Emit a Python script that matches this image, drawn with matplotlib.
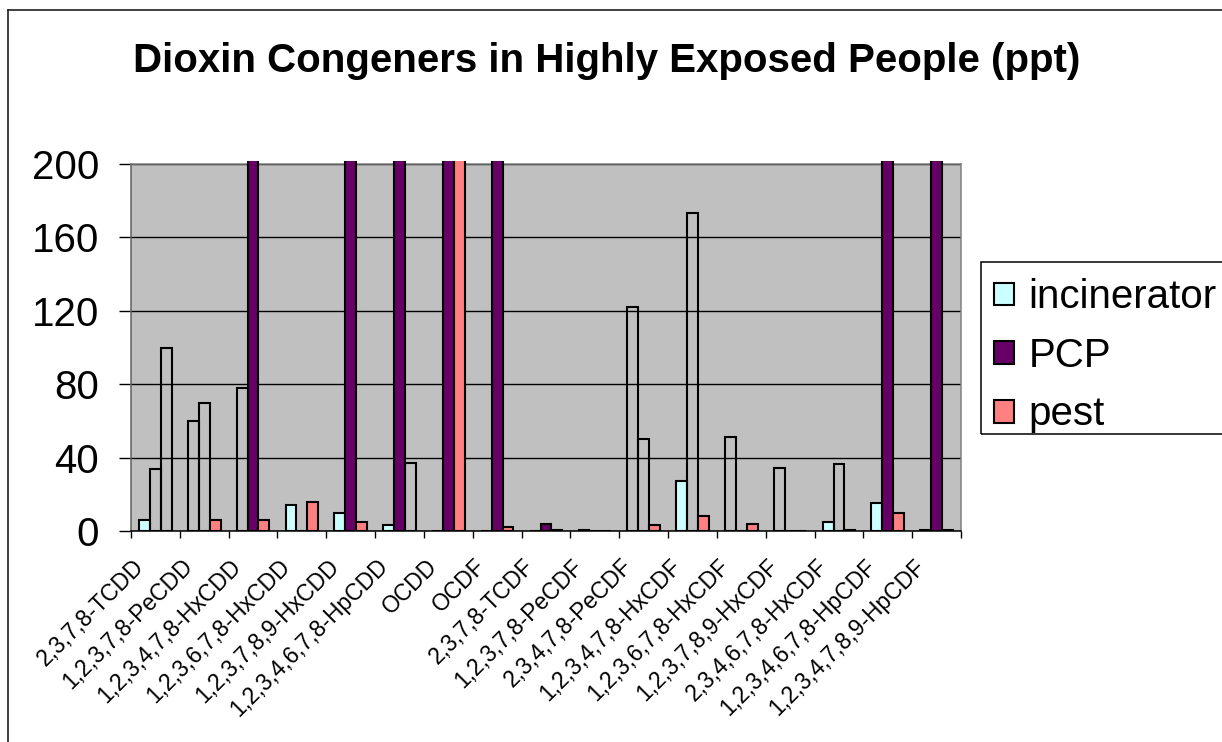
import numpy as np
import matplotlib
matplotlib.use("Agg")
import matplotlib.pyplot as plt
from matplotlib.patches import Patch, Rectangle
from matplotlib.lines import Line2D
from matplotlib.transforms import ScaledTranslation

plt.rcParams['font.family'] = ['Liberation Sans', 'DejaVu Sans']

congeners = [
    "2,3,7,8-TCDD", "1,2,3,7,8-PeCDD", "1,2,3,4,7,8-HxCDD", "1,2,3,6,7,8-HxCDD",
    "1,2,3,7,8,9-HxCDD", "1,2,3,4,6,7,8-HpCDD", "OCDD", "OCDF",
    "2,3,7,8-TCDF", "1,2,3,7,8-PeCDF", "2,3,4,7,8-PeCDF", "1,2,3,4,7,8-HxCDF",
    "1,2,3,6,7,8-HxCDF", "1,2,3,7,8,9-HxCDF", "2,3,4,6,7,8-HxCDF",
    "1,2,3,4,6,7,8-HpCDF", "1,2,3,4,7,8,9-HpCDF",
]

# ppt per congener; values above 200 run off the top of the axis
incinerator = [6, 60, 78, 14, 10, 3, 0, 0, 0, 0.8, 122, 27, 51, 34.5, 5, 15, 0.8]
pcp = [34, 70, 230, 0, 260, 1800, 9500, 240, 4, 0, 50, 173.5, 0, 0, 36.5, 350, 210]
pest = [100, 6, 6, 16, 5, 37, 1200, 2, 0.8, 0, 3, 8, 4, 0, 0.8, 10, 0.8]

# points drawn as outline only (no fill)
incinerator_open = [False, True, True, False, False, False, False, False, False,
                    False, True, False, True, True, False, False, False]
pcp_open = [True, True, False, False, False, False, False, False, False,
            False, True, True, False, False, True, False, False]
pest_open = [True, False, False, False, False, True, False, False, False,
             False, False, False, False, False, False, False, False]

series = [
    ("incinerator", incinerator, incinerator_open, "#CCFFFF"),
    ("PCP", pcp, pcp_open, "#660066"),
    ("pest", pest, pest_open, "#FF8080"),
]

W, H = 1222, 742
fig = plt.figure(figsize=(W / 100, H / 100), dpi=100)
ax = fig.add_axes([131 / W, 1 - 531 / H, (961 - 131) / W, (531 - 164) / H])
ax.set_facecolor("#C0C0C0")

x = np.arange(len(congeners))
bw = 1 / 4.5
clip_rect = Rectangle((0, 0), 1, 1.009, transform=ax.transAxes)
for i, (name, vals, open_mask, color) in enumerate(series):
    faces = ["none" if o else color for o in open_mask]
    bars = ax.bar(x + (i - 1) * bw, vals, width=bw, color=faces,
                  edgecolor="black", linewidth=1.5, zorder=3)
    for b in bars:
        b.set_clip_path(clip_rect)

ax.set_ylim(0, 200)
ax.set_xlim(-0.5, len(congeners) - 0.5)
ax.set_yticks(np.arange(0, 201, 40))
ax.tick_params(axis="y", labelsize=29, length=9, width=1, direction="out", pad=14)
ax.yaxis.grid(True, color="black", linewidth=1)
ax.set_axisbelow(True)

ax.set_xticks(np.arange(-0.5, len(congeners)), labels=[])
ax.tick_params(axis="x", which="major", length=5, width=1, direction="out")
ax.set_xticks(x, minor=True)
ax.set_xticklabels(congeners, minor=True, rotation=45, ha="right", va="center",
                   rotation_mode="anchor", fontsize=16.5)
ax.tick_params(axis="x", which="minor", length=0, pad=23)
shift = ScaledTranslation(-15 / 100, 0, fig.dpi_scale_trans)
for lab in ax.get_xticklabels(minor=True):
    lab.set_transform(lab.get_transform() + shift)

for side in ("top", "right"):
    ax.spines[side].set_color("#808080")
ax.spines["left"].set_color("#606060")
ax.spines["bottom"].set_color("black")
for s in ax.spines.values():
    s.set_linewidth(1.1)

fig.text(607 / W, 1 - 61 / H, "Dioxin Congeners in Highly Exposed People (ppt)",
         ha="center", va="center", fontsize=29, fontweight="bold")

handles = [Patch(facecolor=c, edgecolor="black", linewidth=1.5) for _, _, _, c in series]
fig.legend(handles, [s[0] for s in series], loc="upper left",
           bbox_to_anchor=(981 / W, 1 - 265 / H), borderaxespad=0,
           fontsize=29, handlelength=0.5, handleheight=0.5, handletextpad=0.35,
           labelspacing=0.51, borderpad=0.33, frameon=False)

# legend box, running off the right edge
fig.add_artist(Rectangle((981 / W, 1 - 434 / H), 300 / W, (434 - 262) / H,
                         transform=fig.transFigure, facecolor="none",
                         edgecolor="black", linewidth=1.1))

# chart area border
fig.add_artist(Line2D([8 / W, 8 / W], [0, 1 - 10 / H], transform=fig.transFigure,
                      color="#202020", linewidth=1.2))
fig.add_artist(Line2D([8 / W, 1], [1 - 10 / H, 1 - 10 / H], transform=fig.transFigure,
                      color="#202020", linewidth=1.2))

fig.savefig("out.png", dpi=100)
